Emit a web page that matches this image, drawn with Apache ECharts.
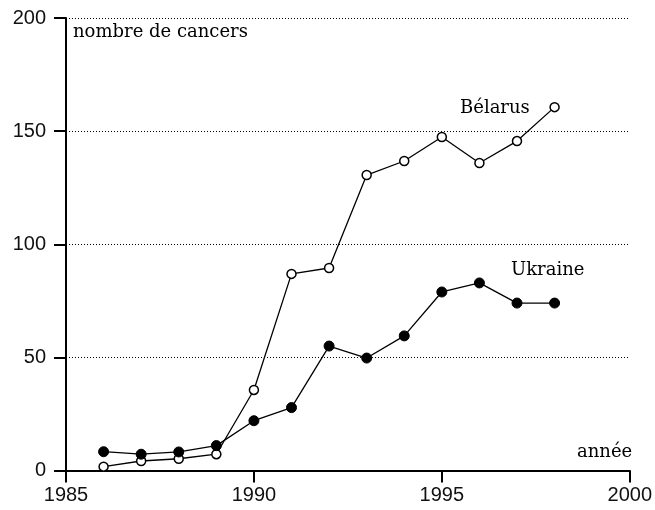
<!DOCTYPE html>
<html>
<head>
<meta charset="utf-8">
<script src="https://cdn.jsdelivr.net/npm/echarts@6/dist/echarts.min.js"></script>
<style>html,body{margin:0;padding:0;background:#fff}#c{width:655px;height:510px}</style>
</head>
<body>
<div id="c"></div>
<script>
const years = [1986, 1987, 1988, 1989, 1990, 1991, 1992, 1993, 1994, 1995, 1996, 1997, 1998];
const belarus = [1.7, 4.2, 5.2, 7.2, 35.6, 86.9, 89.5, 130.6, 136.8, 147.4, 135.9, 145.6, 160.6];
const ukraine = [8.3, 7.2, 8.2, 11, 22, 27.8, 55, 49.7, 59.5, 78.9, 82.9, 74, 74];
const xTicks = [1985, 1990, 1995, 2000];
const yTicks = [0, 50, 100, 150, 200];

const chart = echarts.init(document.getElementById('c'), null, {renderer: 'canvas'});
const serif = '"DejaVu Serif", serif';
const sans = '"Liberation Sans", Arial, sans-serif';
chart.setOption({
  animation: false,
  backgroundColor: '#fff',
  grid: {left: 66, right: 22, top: 18, bottom: 39.5},
  xAxis: {
    type: 'value', min: xTicks[0], max: xTicks[xTicks.length - 1], interval: 5,
    axisLine: {show: true, lineStyle: {color: '#000', width: 2}},
    axisTick: {show: true, length: 12, lineStyle: {color: '#000', width: 2}},
    axisLabel: {color: '#111', fontFamily: sans, fontSize: 20, margin: 15, formatter: v => String(v)},
    splitLine: {show: false}
  },
  yAxis: {
    type: 'value', min: yTicks[0], max: yTicks[yTicks.length - 1], interval: 50,
    axisLine: {show: true, lineStyle: {color: '#000', width: 2}},
    axisTick: {show: true, length: 12, lineStyle: {color: '#000', width: 2}},
    axisLabel: {color: '#111', fontFamily: sans, fontSize: 20, margin: 20, formatter: v => String(v)},
    splitLine: {show: true, lineStyle: {color: '#000', width: 1.2, type: [1, 2]}}
  },
  series: [
    {
      name: 'Bélarus', type: 'line',
      data: years.map((y, i) => [y, belarus[i]]),
      symbol: 'circle', symbolSize: 9,
      lineStyle: {color: '#000', width: 1.3},
      itemStyle: {color: '#fff', borderColor: '#000', borderWidth: 1.5},
      z: 3
    },
    {
      name: 'Ukraine', type: 'line',
      data: years.map((y, i) => [y, ukraine[i]]),
      symbol: 'circle', symbolSize: 10,
      lineStyle: {color: '#000', width: 1.3},
      itemStyle: {color: '#000', borderColor: '#000', borderWidth: 1},
      z: 4
    }
  ],
  graphic: [
    {type: 'text', left: 73, top: 23, style: {text: 'nombre de cancers', font: '18px ' + serif, fill: '#000'}},
    {type: 'text', left: 460, top: 99, style: {text: 'Bélarus', font: '18px ' + serif, fill: '#000'}},
    {type: 'text', left: 511, top: 261, style: {text: 'Ukraine', font: '18px ' + serif, fill: '#000'}},
    {type: 'text', left: 577, top: 443, style: {text: 'année', font: '18px ' + serif, fill: '#000'}}
  ]
});
</script>
</body>
</html>
